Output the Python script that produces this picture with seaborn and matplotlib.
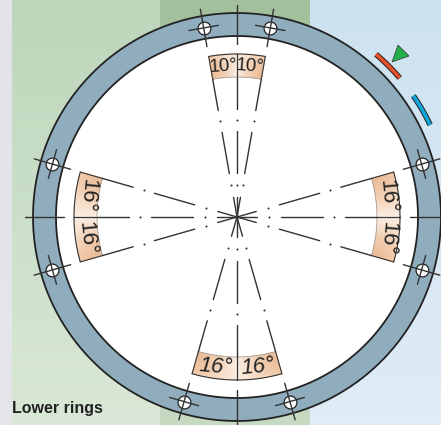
import numpy as np
import pandas as pd
import matplotlib
matplotlib.use("Agg")
import matplotlib.pyplot as plt
from matplotlib.colors import LinearSegmentedColormap
from matplotlib.patches import Polygon
import seaborn as sns

# ---- data (degrees clockwise from the top, radii in drawing units) ----
RING_OUTER = 204
RING_INNER = 181
SPOKE_ANGLES = [0, 90, 180, 270]
SPREAD_TOP = 10
SPREAD_OTHER = 16
BOLT_ANGLES = [-10, 10, 74, 106, 164, 196, 254, 286]
BOLT_RADIUS = 192
TICK_ANGLES = [-10, 0, 10, 74, 90, 106, 164, 180, 196, 254, 270, 286]
DASH_RANGES = [(0, 20), (44, 86), (108, 140)]
DOT_RADII = [32, 97]
SECTOR_INNER = 140
SECTOR_OUTER = 163
ARC_RADIUS = 214
RED_ARC = (40.5, 49.5)
BLUE_ARC = (55.5, 64.5)
TITLE = "Lower rings"
LABELS_TOP = ["10°", "10°"]
LABELS_OTHER = ["16°", "16°"]

CX, CY = 237, 217   # image position of the ring centre
W, H = 441, 425


def xy(angle, r):
    a = np.radians(angle)
    return r * np.sin(a), r * np.cos(a)


sns.set_theme(style="white")
plt.rcParams["font.family"] = ["Liberation Sans Narrow", "Liberation Sans", "DejaVu Sans"]

fig = plt.figure(figsize=(W / 100, H / 100), dpi=100)
ax = fig.add_axes([0, 0, 1, 1])
ax.set_axis_off()


def to_ext(x0, x1, y0, y1):
    return (x0 - CX, x1 - CX, CY - y1, CY - y0)


def band(x0, x1, top, bottom):
    cm = LinearSegmentedColormap.from_list("b", [top, bottom])
    ax.imshow(np.linspace(0, 1, 64)[:, None], cmap=cm, aspect="auto",
              extent=to_ext(x0, x1, 0, H), origin="upper", zorder=0)


band(0, 12, "#e1e3e6", "#e4e6e9")
band(12, 160, "#bdd6bb", "#d9e8d6")
band(160, 310, "#a2c09c", "#c6dac2")
band(310, W, "#cde2f0", "#e0ecf6")
ax.set_xlim(-CX, W - CX)
ax.set_ylim(-(H - CY), CY)

# ring
th = np.linspace(0, 360, 721)
ox, oy = xy(th, RING_OUTER)
ix, iy = xy(th, RING_INNER)
ax.fill(ox, oy, color="#90adbd", lw=0, zorder=1)
ax.fill(ix, iy, color="white", lw=0, zorder=2)
ax.plot(ox, oy, color="#222222", lw=1.3, zorder=3)
ax.plot(ix, iy, color="#222222", lw=1.3, zorder=3)

# gradient sectors
peach = LinearSegmentedColormap.from_list("p", ["#fbeee2", "#f2cfb2", "#ebbb95"])


def sector(a0, a1):
    """Peach wedge, dark at a0 and pale at a1."""
    a = np.linspace(a0, a1, 30)
    r = np.linspace(SECTOR_INNER, SECTOR_OUTER, 12)
    A, R = np.meshgrid(a, r)
    X, Y = xy(A, R)
    C = (1 - np.linspace(0, 1, 30))[None, :] * (1 - 0.4 * np.linspace(0, 1, 12)[:, None] ** 2)
    ax.pcolormesh(X, Y, C, cmap=peach, vmin=0, vmax=1, shading="gouraud", zorder=4)
    for ang in (a0, a1):
        ax.plot(*xy(ang, np.array([SECTOR_INNER, SECTOR_OUTER])), color="#333333", lw=0.8, zorder=5)
    ra = np.linspace(a0, a1, 30)
    ax.plot(*xy(ra, SECTOR_OUTER), color="#333333", lw=0.8, zorder=5)
    ax.plot(*xy(ra, SECTOR_INNER), color="#999999", lw=0.5, zorder=5)


for c in SPOKE_ANGLES:
    s = SPREAD_TOP if c == 0 else SPREAD_OTHER
    sector(c - s, c)
    sector(c + s, c)

# dashes of the centre lines
rows = []
uid = 0
for ang in TICK_ANGLES:
    for r0, r1 in DASH_RANGES:
        for r in (r0, r1):
            px, py = xy(ang, r)
            rows.append(dict(x=px, y=py, u=uid))
        uid += 1
sns.lineplot(data=pd.DataFrame(rows), x="x", y="y", units="u", estimator=None,
             sort=False, color="#333333", lw=1.0, ax=ax, zorder=6, legend=False)

# dots
dx, dy = [], []
for ang in TICK_ANGLES:
    for r in DOT_RADII:
        p = xy(ang, r)
        dx.append(p[0])
        dy.append(p[1])
sns.scatterplot(x=dx, y=dy, s=2.2, color="#333333", linewidth=0, ax=ax, zorder=6)

# ring spokes
rows = []
uid = 0
for ang in SPOKE_ANGLES:
    for r in (173, 212):
        px, py = xy(ang, r)
        rows.append(dict(x=px, y=py, u=uid))
    uid += 1
for ang in BOLT_ANGLES:
    # radial stroke
    for r in (173, 211):
        px, py = xy(ang, r)
        rows.append(dict(x=px, y=py, u=uid))
    uid += 1
    # tangential stroke
    cx0, cy0 = xy(ang, BOLT_RADIUS)
    t = np.radians(ang)
    for d in (-15, 15):
        rows.append(dict(x=cx0 + d * np.cos(t), y=cy0 - d * np.sin(t), u=uid))
    uid += 1

# bolt holes
bx, by = xy(np.array(BOLT_ANGLES, float), BOLT_RADIUS)
sns.scatterplot(x=bx, y=by, s=85, color="white", edgecolor="#222222", linewidth=0.9, ax=ax, zorder=7)
sns.lineplot(data=pd.DataFrame(rows), x="x", y="y", units="u", estimator=None,
             sort=False, color="#333333", lw=1.0, ax=ax, zorder=8, legend=False)


# indicators
def arc(rng, color):
    a = np.linspace(rng[0], rng[1], 30)
    x, y = xy(a, ARC_RADIUS)
    ax.plot(x, y, color="#222222", lw=4.0, zorder=5, solid_capstyle="butt")
    ax.plot(x, y, color=color, lw=2.6, zorder=6, solid_capstyle="butt")


arc(RED_ARC, "#e8502a")
arc(BLUE_ARC, "#12a4dc")
ax.add_patch(Polygon([(398 - CX, CY - 45), (409 - CX, CY - 56), (392 - CX, CY - 62)],
                     closed=True, fc="#22ae4b", ec="#333333", lw=0.5, zorder=6))

# labels
rc = (SECTOR_INNER + SECTOR_OUTER) / 2
ROT = {0: (4, -4), 90: (-85, -95), 180: (5, -5), 270: (-84, -96)}
for c in SPOKE_ANGLES:
    s = SPREAD_TOP if c == 0 else SPREAD_OTHER
    labels = LABELS_TOP if c == 0 else LABELS_OTHER
    rots = ROT[c]
    size = 13.5 if c == 0 else 16
    for sign, t, rot in zip((-1, 1), labels, rots):
        a = c + sign * s / 2
        p = xy(a, rc)
        style = "italic" if c == 180 else "normal"
        ax.text(p[0], p[1], t, rotation=rot, rotation_mode="anchor", style=style,
                fontsize=size, color="#222222", ha="center", va="center", zorder=9)

ax.text(12 - CX, CY - 409, TITLE, fontsize=11.5, fontweight="bold", color="#222222",
        ha="left", va="center", zorder=9)

fig.savefig("out.png", dpi=100)
